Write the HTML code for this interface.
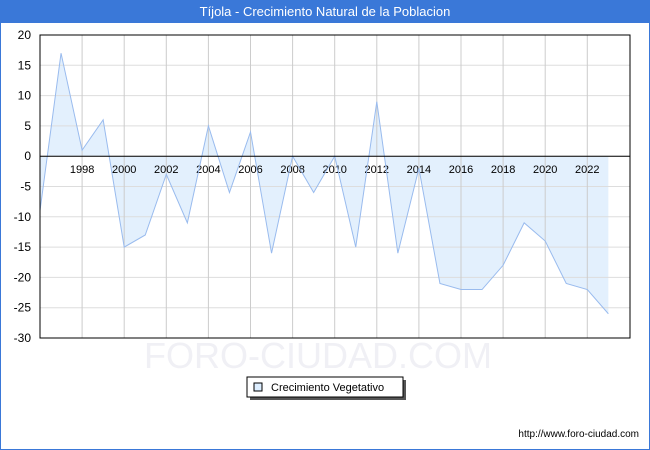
<!DOCTYPE html>
<html><head><meta charset="utf-8"><style>
body{margin:0;width:650px;height:450px;overflow:hidden;font-family:"Liberation Sans","DejaVu Sans",sans-serif}
#frame{position:absolute;left:0;top:0;width:648px;height:448px;border:1px solid #3a78d8;background:#fff}
#title{position:absolute;left:0;top:0;width:650px;height:23px;background:#3a78d8;color:#fff;font-size:13px;text-align:center;line-height:23px}
</style></head><body>
<div id="frame"></div>
<div id="title">Tíjola - Crecimiento Natural de la Poblacion</div>
<svg id="chart" width="650" height="450" style="position:absolute;left:0;top:0"></svg>
<script>
const years=[1996,1997,1998,1999,2000,2001,2002,2003,2004,2005,2006,2007,2008,2009,2010,2011,2012,2013,2014,2015,2016,2017,2018,2019,2020,2021,2022,2023];
const values=[-9,17,1,6,-15,-13,-3,-11,5,-6,4,-16,0,-6,0,-15,9,-16,-2,-21,-22,-22,-18,-11,-14,-21,-22,-26];
const yTicks=[20,15,10,5,0,-5,-10,-15,-20,-25,-30];
const xTickYears=[1998,2000,2002,2004,2006,2008,2010,2012,2014,2016,2018,2020,2022];
const svg=document.getElementById('chart');const NS='http://www.w3.org/2000/svg';
const L=40,R=630,T=35,B=338;
const x=y=>L+(y-1996)*21.05;
const yS=v=>T+(20-v)*(B-T)/50;
function mk(t,a,p){const e=document.createElementNS(NS,t);for(const k in a)e.setAttribute(k,a[k]);(p||svg).appendChild(e);return e;}
const wm=mk('text',{x:318,y:368,'text-anchor':'middle','font-size':36,fill:'#f0f0f5','font-family':'Liberation Sans, sans-serif'});


wm.textContent='FORO-CIUDAD.COM';
let d='M'+x(years[0])+','+yS(0);years.forEach((yr,i)=>d+=' L'+x(yr)+','+yS(values[i]));d+=' L'+x(years[years.length-1])+','+yS(0)+' Z';
const area=mk('path',{d:d,fill:'#e3f0fd'});


yTicks.forEach(v=>{const g=mk('line',{x1:L,x2:R,y1:yS(v),y2:yS(v),stroke:'#dddddd'});


const t=mk('text',{x:31,y:yS(v)+4,'text-anchor':'end','font-size':12,fill:'#000'});


t.textContent=v;});
xTickYears.forEach(yr=>{const g=mk('line',{x1:x(yr),x2:x(yr),y1:T,y2:B,stroke:'#cccccc'});


const t=mk('text',{x:x(yr),y:173,'text-anchor':'middle','font-size':11,fill:'#000'});


t.textContent=yr;});
const line=mk('polyline',{points:years.map((yr,i)=>x(yr)+','+yS(values[i])).join(' '),fill:'none',stroke:'#99bbee','stroke-width':1});


const zl=mk('line',{x1:L,x2:R,y1:yS(0),y2:yS(0),stroke:'#000'});


const bx=mk('rect',{x:L,y:T,width:R-L,height:B-T,fill:'none',stroke:'#000'});


const lg=mk('g',{});


mk('rect',{x:250,y:380,width:156,height:20,fill:'#555'},lg);
mk('rect',{x:247,y:377,width:156,height:20,fill:'#fff',stroke:'#000'},lg);
mk('rect',{x:254,y:383,width:8,height:8,fill:'#ddeeff',stroke:'#000'},lg);
const lt=mk('text',{x:271,y:391,'font-size':11,fill:'#000'},lg);


lt.textContent='Crecimiento Vegetativo';
const u=mk('text',{x:639,y:437,'text-anchor':'end','font-size':10,fill:'#000'});


u.textContent='http://www.foro-ciudad.com';
</script>
</body></html>
